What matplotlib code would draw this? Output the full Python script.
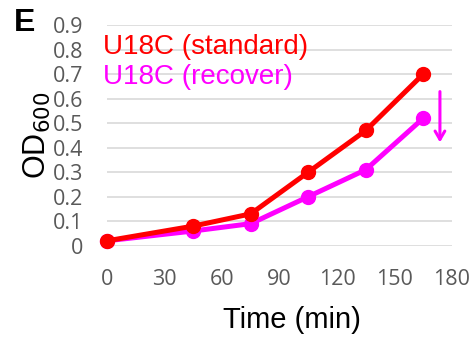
import matplotlib.pyplot as plt

time_min = [0, 45, 75, 105, 135, 165]
od_standard = [0.02, 0.08, 0.13, 0.30, 0.47, 0.70]
od_recover = [0.02, 0.06, 0.09, 0.20, 0.31, 0.52]
x_ticks = [0, 30, 60, 90, 120, 150, 180]
y_ticks = [0, 0.1, 0.2, 0.3, 0.4, 0.5, 0.6, 0.7, 0.8, 0.9]
y_ticklabels = ['0', '0.1', '0.2', '0.3', '0.4', '0.5', '0.6', '0.7', '0.8', '0.9']

red = '#ff0000'
magenta = '#ff00ff'
tick_grey = '#595959'

fig = plt.figure(figsize=(4.75, 3.39), dpi=100)
ax = fig.add_axes([0.2253, 0.2752, 0.7263, 0.6508])

ax.plot(time_min, od_recover, color=magenta, lw=3.6, marker='o', ms=10,
        clip_on=False, zorder=3)
ax.plot(time_min, od_standard, color=red, lw=3.6, marker='o', ms=10,
        clip_on=False, zorder=4)

ax.set_xlim(0, 180)
ax.set_ylim(0, 0.9)
ax.set_xticks(x_ticks)
ax.set_yticks(y_ticks)
ax.set_yticklabels(y_ticklabels)
ax.tick_params(length=0, labelsize=15.5, labelcolor=tick_grey)
ax.tick_params(axis='y', pad=17)
ax.tick_params(axis='x', pad=17)
for lab in ax.get_xticklabels() + ax.get_yticklabels():
    lab.set_family('Open Sans')

ax.grid(axis='y', color='#d9d9d9', lw=1.2)
ax.set_axisbelow(True)
for s in ax.spines.values():
    s.set_visible(False)

ax.set_xlabel('Time (min)', fontsize=21, family='Liberation Sans')
ax.xaxis.set_label_coords(0.536, -0.275)
ax.set_ylabel('OD$_{600}$', fontsize=22, family='Liberation Sans', labelpad=0)

ax.text(-0.012, 0.90, 'U18C (standard)', transform=ax.transAxes, color=red,
        fontsize=20, family='Liberation Sans', va='center', ha='left')
ax.text(-0.012, 0.764, 'U18C (recover)', transform=ax.transAxes, color=magenta,
        fontsize=20, family='Liberation Sans', va='center', ha='left')

# downward arrow next to the recover curve
ax.annotate('', xy=(173.7, 0.41), xytext=(173.7, 0.64),
            arrowprops=dict(arrowstyle='->,head_width=0.35,head_length=0.6',
                            color=magenta, lw=2.2), annotation_clip=False)

fig.text(0.03, 0.932, 'E', fontsize=23, fontweight='bold',
         family='Liberation Sans', va='center')

fig.savefig('out.png', dpi=100)
